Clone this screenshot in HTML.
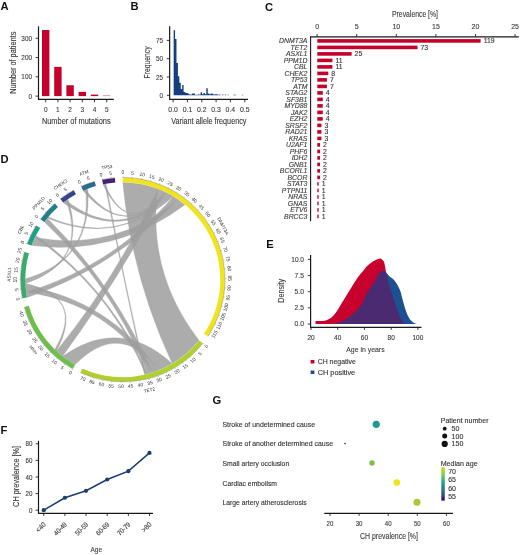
<!DOCTYPE html><html><head><meta charset="utf-8"><style>html,body{margin:0;padding:0;background:#fff;}svg{display:block;filter:blur(0.35px);}</style></head><body><svg width="520" height="555" viewBox="0 0 520 555" font-family='"Liberation Sans", sans-serif'><text x="0.60" y="10.40" font-size="11.2" fill="#111" font-weight="bold" >A</text>
<line x1="38.50" y1="26.30" x2="38.50" y2="99.80" stroke="#1a1a1a" stroke-width="1.2"/>
<line x1="37.95" y1="99.30" x2="113.80" y2="99.30" stroke="#1a1a1a" stroke-width="1.2"/>
<line x1="35.60" y1="96.10" x2="38.50" y2="96.10" stroke="#222" stroke-width="0.9"/>
<text x="32.00" y="98.70" font-size="7.6" text-anchor="end" fill="#3a3a3a" stroke="#3a3a3a" stroke-width="0.12" textLength="3.55" lengthAdjust="spacingAndGlyphs" >0</text>
<line x1="35.60" y1="76.83" x2="38.50" y2="76.83" stroke="#222" stroke-width="0.9"/>
<text x="32.00" y="79.43" font-size="7.6" text-anchor="end" fill="#3a3a3a" stroke="#3a3a3a" stroke-width="0.12" textLength="10.649999999999999" lengthAdjust="spacingAndGlyphs" >100</text>
<line x1="35.60" y1="57.56" x2="38.50" y2="57.56" stroke="#222" stroke-width="0.9"/>
<text x="32.00" y="60.16" font-size="7.6" text-anchor="end" fill="#3a3a3a" stroke="#3a3a3a" stroke-width="0.12" textLength="10.649999999999999" lengthAdjust="spacingAndGlyphs" >200</text>
<line x1="35.60" y1="38.29" x2="38.50" y2="38.29" stroke="#222" stroke-width="0.9"/>
<text x="32.00" y="40.89" font-size="7.6" text-anchor="end" fill="#3a3a3a" stroke="#3a3a3a" stroke-width="0.12" textLength="10.649999999999999" lengthAdjust="spacingAndGlyphs" >300</text>
<rect x="42.00" y="30.00" width="7.40" height="66.10" fill="#c4002b" />
<line x1="45.70" y1="99.30" x2="45.70" y2="102.30" stroke="#222" stroke-width="0.9"/>
<text x="45.70" y="112.00" font-size="7.6" text-anchor="middle" fill="#3a3a3a" stroke="#3a3a3a" stroke-width="0.12" textLength="3.6" lengthAdjust="spacingAndGlyphs" >0</text>
<rect x="54.20" y="66.90" width="7.40" height="29.20" fill="#c4002b" />
<line x1="57.90" y1="99.30" x2="57.90" y2="102.30" stroke="#222" stroke-width="0.9"/>
<text x="57.90" y="112.00" font-size="7.6" text-anchor="middle" fill="#3a3a3a" stroke="#3a3a3a" stroke-width="0.12" textLength="3.6" lengthAdjust="spacingAndGlyphs" >1</text>
<rect x="66.40" y="85.25" width="7.40" height="10.85" fill="#c4002b" />
<line x1="70.10" y1="99.30" x2="70.10" y2="102.30" stroke="#222" stroke-width="0.9"/>
<text x="70.10" y="112.00" font-size="7.6" text-anchor="middle" fill="#3a3a3a" stroke="#3a3a3a" stroke-width="0.12" textLength="3.6" lengthAdjust="spacingAndGlyphs" >2</text>
<rect x="78.60" y="91.90" width="7.40" height="4.20" fill="#c4002b" />
<line x1="82.30" y1="99.30" x2="82.30" y2="102.30" stroke="#222" stroke-width="0.9"/>
<text x="82.30" y="112.00" font-size="7.6" text-anchor="middle" fill="#3a3a3a" stroke="#3a3a3a" stroke-width="0.12" textLength="3.6" lengthAdjust="spacingAndGlyphs" >3</text>
<rect x="90.80" y="94.60" width="7.40" height="1.50" fill="#c4002b" />
<line x1="94.50" y1="99.30" x2="94.50" y2="102.30" stroke="#222" stroke-width="0.9"/>
<text x="94.50" y="112.00" font-size="7.6" text-anchor="middle" fill="#3a3a3a" stroke="#3a3a3a" stroke-width="0.12" textLength="3.6" lengthAdjust="spacingAndGlyphs" >4</text>
<rect x="103.00" y="95.25" width="7.40" height="0.85" fill="#e08a9a" />
<line x1="106.70" y1="99.30" x2="106.70" y2="102.30" stroke="#222" stroke-width="0.9"/>
<text x="106.70" y="112.00" font-size="7.6" text-anchor="middle" fill="#3a3a3a" stroke="#3a3a3a" stroke-width="0.12" textLength="3.6" lengthAdjust="spacingAndGlyphs" >5</text>
<text x="41.90" y="123.60" font-size="8.2" fill="#3a3a3a" stroke="#3a3a3a" stroke-width="0.12" textLength="68.7" lengthAdjust="spacingAndGlyphs" >Number of mutations</text>
<text x="15.60" y="62.70" font-size="8.2" text-anchor="middle" fill="#3a3a3a" stroke="#3a3a3a" stroke-width="0.12" textLength="62" lengthAdjust="spacingAndGlyphs" transform="rotate(-90.00 15.60 62.70)" >Number of patients</text>
<text x="130.60" y="10.40" font-size="11.2" fill="#111" font-weight="bold" >B</text>
<line x1="169.65" y1="26.30" x2="169.65" y2="99.80" stroke="#1a1a1a" stroke-width="1.2"/>
<line x1="169.10" y1="99.30" x2="248.00" y2="99.30" stroke="#1a1a1a" stroke-width="1.2"/>
<line x1="166.80" y1="95.30" x2="169.65" y2="95.30" stroke="#222" stroke-width="0.9"/>
<text x="163.00" y="97.90" font-size="7.6" text-anchor="end" fill="#3a3a3a" stroke="#3a3a3a" stroke-width="0.12" textLength="3.55" lengthAdjust="spacingAndGlyphs" >0</text>
<line x1="166.80" y1="77.00" x2="169.65" y2="77.00" stroke="#222" stroke-width="0.9"/>
<text x="163.00" y="79.60" font-size="7.6" text-anchor="end" fill="#3a3a3a" stroke="#3a3a3a" stroke-width="0.12" textLength="7.1" lengthAdjust="spacingAndGlyphs" >25</text>
<line x1="166.80" y1="58.70" x2="169.65" y2="58.70" stroke="#222" stroke-width="0.9"/>
<text x="163.00" y="61.30" font-size="7.6" text-anchor="end" fill="#3a3a3a" stroke="#3a3a3a" stroke-width="0.12" textLength="7.1" lengthAdjust="spacingAndGlyphs" >50</text>
<line x1="166.80" y1="40.40" x2="169.65" y2="40.40" stroke="#222" stroke-width="0.9"/>
<text x="163.00" y="43.00" font-size="7.6" text-anchor="end" fill="#3a3a3a" stroke="#3a3a3a" stroke-width="0.12" textLength="7.1" lengthAdjust="spacingAndGlyphs" >75</text>
<line x1="173.10" y1="99.30" x2="173.10" y2="102.30" stroke="#222" stroke-width="0.9"/>
<text x="173.10" y="112.00" font-size="7.6" text-anchor="middle" fill="#3a3a3a" stroke="#3a3a3a" stroke-width="0.12" textLength="9.6" lengthAdjust="spacingAndGlyphs" >0.0</text>
<line x1="187.43" y1="99.30" x2="187.43" y2="102.30" stroke="#222" stroke-width="0.9"/>
<text x="187.43" y="112.00" font-size="7.6" text-anchor="middle" fill="#3a3a3a" stroke="#3a3a3a" stroke-width="0.12" textLength="9.6" lengthAdjust="spacingAndGlyphs" >0.1</text>
<line x1="201.76" y1="99.30" x2="201.76" y2="102.30" stroke="#222" stroke-width="0.9"/>
<text x="201.76" y="112.00" font-size="7.6" text-anchor="middle" fill="#3a3a3a" stroke="#3a3a3a" stroke-width="0.12" textLength="9.6" lengthAdjust="spacingAndGlyphs" >0.2</text>
<line x1="216.09" y1="99.30" x2="216.09" y2="102.30" stroke="#222" stroke-width="0.9"/>
<text x="216.09" y="112.00" font-size="7.6" text-anchor="middle" fill="#3a3a3a" stroke="#3a3a3a" stroke-width="0.12" textLength="9.6" lengthAdjust="spacingAndGlyphs" >0.3</text>
<line x1="230.42" y1="99.30" x2="230.42" y2="102.30" stroke="#222" stroke-width="0.9"/>
<text x="230.42" y="112.00" font-size="7.6" text-anchor="middle" fill="#3a3a3a" stroke="#3a3a3a" stroke-width="0.12" textLength="9.6" lengthAdjust="spacingAndGlyphs" >0.4</text>
<line x1="244.75" y1="99.30" x2="244.75" y2="102.30" stroke="#222" stroke-width="0.9"/>
<text x="244.75" y="112.00" font-size="7.6" text-anchor="middle" fill="#3a3a3a" stroke="#3a3a3a" stroke-width="0.12" textLength="9.6" lengthAdjust="spacingAndGlyphs" >0.5</text>
<path d="M173.65,95.30h1.42v-65.15h-1.42zM175.07,95.30h1.42v-56.36h-1.42zM176.49,95.30h1.42v-32.21h-1.42zM177.91,95.30h1.42v-19.03h-1.42zM179.33,95.30h1.42v-12.44h-1.42zM180.75,95.30h1.42v-6.30h-1.42zM182.17,95.30h1.42v-10.25h-1.42zM183.59,95.30h1.42v-3.37h-1.42zM185.01,95.30h1.42v-2.56h-1.42zM186.43,95.30h1.42v-2.20h-1.42zM187.85,95.30h1.42v-1.46h-1.42zM189.27,95.30h1.42v-0.73h-1.42zM190.69,95.30h1.42v-0.73h-1.42zM192.11,95.30h1.42v-1.76h-1.42zM193.53,95.30h1.42v-1.76h-1.42zM194.95,95.30h1.42v-0.51h-1.42zM196.37,95.30h1.42v-0.51h-1.42zM197.79,95.30h1.42v-0.73h-1.42zM199.21,95.30h1.42v-0.73h-1.42zM200.63,95.30h1.42v-2.93h-1.42zM202.05,95.30h1.42v-1.10h-1.42zM203.47,95.30h1.42v-2.20h-1.42zM204.89,95.30h1.42v-1.10h-1.42zM206.31,95.30h1.42v-7.03h-1.42zM207.73,95.30h1.42v-1.76h-1.42zM209.15,95.30h1.42v-1.10h-1.42zM210.57,95.30h1.42v-1.76h-1.42zM211.99,95.30h1.42v-1.46h-1.42zM213.41,95.30h1.42v-0.73h-1.42zM214.83,95.30h1.42v-1.10h-1.42zM216.25,95.30h1.42v-1.10h-1.42zM217.67,95.30h1.42v-0.51h-1.42zM219.09,95.30h1.42v-0.73h-1.42zM221.93,95.30h1.42v-0.73h-1.42zM224.77,95.30h1.42v-0.73h-1.42zM227.61,95.30h1.42v-0.51h-1.42zM233.29,95.30h1.42v-0.51h-1.42zM234.71,95.30h1.42v-0.51h-1.42zM241.81,95.30h1.42v-0.51h-1.42z" fill="#153f7c"/>
<text x="171.20" y="123.60" font-size="8.2" fill="#3a3a3a" stroke="#3a3a3a" stroke-width="0.12" textLength="75.3" lengthAdjust="spacingAndGlyphs" >Variant allele frequency</text>
<text x="150.40" y="62.40" font-size="8.2" text-anchor="middle" fill="#3a3a3a" stroke="#3a3a3a" stroke-width="0.12" textLength="32" lengthAdjust="spacingAndGlyphs" transform="rotate(-90.00 150.40 62.40)" >Frequency</text>
<text x="264.90" y="10.60" font-size="11.2" fill="#111" font-weight="bold" >C</text>
<text x="392.00" y="17.40" font-size="8.8" fill="#3a3a3a" stroke="#3a3a3a" stroke-width="0.12" textLength="46" lengthAdjust="spacingAndGlyphs" >Prevalence [%]</text>
<line x1="310.05" y1="36.80" x2="518.80" y2="36.80" stroke="#1a1a1a" stroke-width="1.2"/>
<line x1="310.60" y1="36.80" x2="310.60" y2="221.30" stroke="#1a1a1a" stroke-width="1.1"/>
<line x1="317.10" y1="34.00" x2="317.10" y2="36.80" stroke="#222" stroke-width="0.9"/>
<text x="317.10" y="28.80" font-size="7.0" text-anchor="middle" fill="#3a3a3a" stroke="#3a3a3a" stroke-width="0.12" >0</text>
<line x1="356.70" y1="34.00" x2="356.70" y2="36.80" stroke="#222" stroke-width="0.9"/>
<text x="356.70" y="28.80" font-size="7.0" text-anchor="middle" fill="#3a3a3a" stroke="#3a3a3a" stroke-width="0.12" >5</text>
<line x1="396.30" y1="34.00" x2="396.30" y2="36.80" stroke="#222" stroke-width="0.9"/>
<text x="396.30" y="28.80" font-size="7.0" text-anchor="middle" fill="#3a3a3a" stroke="#3a3a3a" stroke-width="0.12" >10</text>
<line x1="435.90" y1="34.00" x2="435.90" y2="36.80" stroke="#222" stroke-width="0.9"/>
<text x="435.90" y="28.80" font-size="7.0" text-anchor="middle" fill="#3a3a3a" stroke="#3a3a3a" stroke-width="0.12" >15</text>
<line x1="475.50" y1="34.00" x2="475.50" y2="36.80" stroke="#222" stroke-width="0.9"/>
<text x="475.50" y="28.80" font-size="7.0" text-anchor="middle" fill="#3a3a3a" stroke="#3a3a3a" stroke-width="0.12" >20</text>
<line x1="515.10" y1="34.00" x2="515.10" y2="36.80" stroke="#222" stroke-width="0.9"/>
<text x="515.10" y="28.80" font-size="7.0" text-anchor="middle" fill="#3a3a3a" stroke="#3a3a3a" stroke-width="0.12" >25</text>
<rect x="317.30" y="39.10" width="163.34" height="3.60" fill="#c4002b" />
<text x="307.40" y="43.20" font-size="6.9" text-anchor="end" fill="#3a3a3a" stroke="#3a3a3a" stroke-width="0.12" font-style="italic" >DNMT3A</text>
<text x="483.64" y="43.40" font-size="6.9" fill="#333" stroke="#333" stroke-width="0.12" >119</text>
<rect x="317.30" y="45.60" width="100.20" height="3.60" fill="#c4002b" />
<text x="307.40" y="49.70" font-size="6.9" text-anchor="end" fill="#3a3a3a" stroke="#3a3a3a" stroke-width="0.12" font-style="italic" >TET2</text>
<text x="420.50" y="49.90" font-size="6.9" fill="#333" stroke="#333" stroke-width="0.12" >73</text>
<rect x="317.30" y="52.10" width="34.32" height="3.60" fill="#c4002b" />
<text x="307.40" y="56.20" font-size="6.9" text-anchor="end" fill="#3a3a3a" stroke="#3a3a3a" stroke-width="0.12" font-style="italic" >ASXL1</text>
<text x="354.62" y="56.40" font-size="6.9" fill="#333" stroke="#333" stroke-width="0.12" >25</text>
<rect x="317.30" y="58.60" width="15.10" height="3.60" fill="#c4002b" />
<text x="307.40" y="62.70" font-size="6.9" text-anchor="end" fill="#3a3a3a" stroke="#3a3a3a" stroke-width="0.12" font-style="italic" >PPM1D</text>
<text x="335.40" y="62.90" font-size="6.9" fill="#333" stroke="#333" stroke-width="0.12" >11</text>
<rect x="317.30" y="65.10" width="15.10" height="3.60" fill="#c4002b" />
<text x="307.40" y="69.20" font-size="6.9" text-anchor="end" fill="#3a3a3a" stroke="#3a3a3a" stroke-width="0.12" font-style="italic" >CBL</text>
<text x="335.40" y="69.40" font-size="6.9" fill="#333" stroke="#333" stroke-width="0.12" >11</text>
<rect x="317.30" y="71.60" width="10.98" height="3.60" fill="#c4002b" />
<text x="307.40" y="75.70" font-size="6.9" text-anchor="end" fill="#3a3a3a" stroke="#3a3a3a" stroke-width="0.12" font-style="italic" >CHEK2</text>
<text x="331.28" y="75.90" font-size="6.9" fill="#333" stroke="#333" stroke-width="0.12" >8</text>
<rect x="317.30" y="78.10" width="9.61" height="3.60" fill="#c4002b" />
<text x="307.40" y="82.20" font-size="6.9" text-anchor="end" fill="#3a3a3a" stroke="#3a3a3a" stroke-width="0.12" font-style="italic" >TP53</text>
<text x="329.91" y="82.40" font-size="6.9" fill="#333" stroke="#333" stroke-width="0.12" >7</text>
<rect x="317.30" y="84.60" width="9.61" height="3.60" fill="#c4002b" />
<text x="307.40" y="88.70" font-size="6.9" text-anchor="end" fill="#3a3a3a" stroke="#3a3a3a" stroke-width="0.12" font-style="italic" >ATM</text>
<text x="329.91" y="88.90" font-size="6.9" fill="#333" stroke="#333" stroke-width="0.12" >7</text>
<rect x="317.30" y="91.10" width="5.49" height="3.60" fill="#c4002b" />
<text x="307.40" y="95.20" font-size="6.9" text-anchor="end" fill="#3a3a3a" stroke="#3a3a3a" stroke-width="0.12" font-style="italic" >STAG2</text>
<text x="325.79" y="95.40" font-size="6.9" fill="#333" stroke="#333" stroke-width="0.12" >4</text>
<rect x="317.30" y="97.60" width="5.49" height="3.60" fill="#c4002b" />
<text x="307.40" y="101.70" font-size="6.9" text-anchor="end" fill="#3a3a3a" stroke="#3a3a3a" stroke-width="0.12" font-style="italic" >SF3B1</text>
<text x="325.79" y="101.90" font-size="6.9" fill="#333" stroke="#333" stroke-width="0.12" >4</text>
<rect x="317.30" y="104.10" width="5.49" height="3.60" fill="#c4002b" />
<text x="307.40" y="108.20" font-size="6.9" text-anchor="end" fill="#3a3a3a" stroke="#3a3a3a" stroke-width="0.12" font-style="italic" >MYD88</text>
<text x="325.79" y="108.40" font-size="6.9" fill="#333" stroke="#333" stroke-width="0.12" >4</text>
<rect x="317.30" y="110.60" width="5.49" height="3.60" fill="#c4002b" />
<text x="307.40" y="114.70" font-size="6.9" text-anchor="end" fill="#3a3a3a" stroke="#3a3a3a" stroke-width="0.12" font-style="italic" >JAK2</text>
<text x="325.79" y="114.90" font-size="6.9" fill="#333" stroke="#333" stroke-width="0.12" >4</text>
<rect x="317.30" y="117.10" width="5.49" height="3.60" fill="#c4002b" />
<text x="307.40" y="121.20" font-size="6.9" text-anchor="end" fill="#3a3a3a" stroke="#3a3a3a" stroke-width="0.12" font-style="italic" >EZH2</text>
<text x="325.79" y="121.40" font-size="6.9" fill="#333" stroke="#333" stroke-width="0.12" >4</text>
<rect x="317.30" y="123.60" width="4.12" height="3.60" fill="#c4002b" />
<text x="307.40" y="127.70" font-size="6.9" text-anchor="end" fill="#3a3a3a" stroke="#3a3a3a" stroke-width="0.12" font-style="italic" >SRSF2</text>
<text x="324.42" y="127.90" font-size="6.9" fill="#333" stroke="#333" stroke-width="0.12" >3</text>
<rect x="317.30" y="130.10" width="4.12" height="3.60" fill="#c4002b" />
<text x="307.40" y="134.20" font-size="6.9" text-anchor="end" fill="#3a3a3a" stroke="#3a3a3a" stroke-width="0.12" font-style="italic" >RAD21</text>
<text x="324.42" y="134.40" font-size="6.9" fill="#333" stroke="#333" stroke-width="0.12" >3</text>
<rect x="317.30" y="136.60" width="4.12" height="3.60" fill="#c4002b" />
<text x="307.40" y="140.70" font-size="6.9" text-anchor="end" fill="#3a3a3a" stroke="#3a3a3a" stroke-width="0.12" font-style="italic" >KRAS</text>
<text x="324.42" y="140.90" font-size="6.9" fill="#333" stroke="#333" stroke-width="0.12" >3</text>
<rect x="317.30" y="143.10" width="2.75" height="3.60" fill="#c4002b" />
<text x="307.40" y="147.20" font-size="6.9" text-anchor="end" fill="#3a3a3a" stroke="#3a3a3a" stroke-width="0.12" font-style="italic" >U2AF1</text>
<text x="323.05" y="147.40" font-size="6.9" fill="#333" stroke="#333" stroke-width="0.12" >2</text>
<rect x="317.30" y="149.60" width="2.75" height="3.60" fill="#c4002b" />
<text x="307.40" y="153.70" font-size="6.9" text-anchor="end" fill="#3a3a3a" stroke="#3a3a3a" stroke-width="0.12" font-style="italic" >PHF6</text>
<text x="323.05" y="153.90" font-size="6.9" fill="#333" stroke="#333" stroke-width="0.12" >2</text>
<rect x="317.30" y="156.10" width="2.75" height="3.60" fill="#c4002b" />
<text x="307.40" y="160.20" font-size="6.9" text-anchor="end" fill="#3a3a3a" stroke="#3a3a3a" stroke-width="0.12" font-style="italic" >IDH2</text>
<text x="323.05" y="160.40" font-size="6.9" fill="#333" stroke="#333" stroke-width="0.12" >2</text>
<rect x="317.30" y="162.60" width="2.75" height="3.60" fill="#c4002b" />
<text x="307.40" y="166.70" font-size="6.9" text-anchor="end" fill="#3a3a3a" stroke="#3a3a3a" stroke-width="0.12" font-style="italic" >GNB1</text>
<text x="323.05" y="166.90" font-size="6.9" fill="#333" stroke="#333" stroke-width="0.12" >2</text>
<rect x="317.30" y="169.10" width="2.75" height="3.60" fill="#c4002b" />
<text x="307.40" y="173.20" font-size="6.9" text-anchor="end" fill="#3a3a3a" stroke="#3a3a3a" stroke-width="0.12" font-style="italic" >BCORL1</text>
<text x="323.05" y="173.40" font-size="6.9" fill="#333" stroke="#333" stroke-width="0.12" >2</text>
<rect x="317.30" y="175.60" width="2.75" height="3.60" fill="#c4002b" />
<text x="307.40" y="179.70" font-size="6.9" text-anchor="end" fill="#3a3a3a" stroke="#3a3a3a" stroke-width="0.12" font-style="italic" >BCOR</text>
<text x="323.05" y="179.90" font-size="6.9" fill="#333" stroke="#333" stroke-width="0.12" >2</text>
<rect x="317.30" y="182.10" width="1.37" height="3.60" fill="#c4002b" />
<text x="307.40" y="186.20" font-size="6.9" text-anchor="end" fill="#3a3a3a" stroke="#3a3a3a" stroke-width="0.12" font-style="italic" >STAT3</text>
<text x="321.67" y="186.40" font-size="6.9" fill="#333" stroke="#333" stroke-width="0.12" >1</text>
<rect x="317.30" y="188.60" width="1.37" height="3.60" fill="#c4002b" />
<text x="307.40" y="192.70" font-size="6.9" text-anchor="end" fill="#3a3a3a" stroke="#3a3a3a" stroke-width="0.12" font-style="italic" >PTPN11</text>
<text x="321.67" y="192.90" font-size="6.9" fill="#333" stroke="#333" stroke-width="0.12" >1</text>
<rect x="317.30" y="195.10" width="1.37" height="3.60" fill="#c4002b" />
<text x="307.40" y="199.20" font-size="6.9" text-anchor="end" fill="#3a3a3a" stroke="#3a3a3a" stroke-width="0.12" font-style="italic" >NRAS</text>
<text x="321.67" y="199.40" font-size="6.9" fill="#333" stroke="#333" stroke-width="0.12" >1</text>
<rect x="317.30" y="201.60" width="1.37" height="3.60" fill="#c4002b" />
<text x="307.40" y="205.70" font-size="6.9" text-anchor="end" fill="#3a3a3a" stroke="#3a3a3a" stroke-width="0.12" font-style="italic" >GNAS</text>
<text x="321.67" y="205.90" font-size="6.9" fill="#333" stroke="#333" stroke-width="0.12" >1</text>
<rect x="317.30" y="208.10" width="1.37" height="3.60" fill="#c4002b" />
<text x="307.40" y="212.20" font-size="6.9" text-anchor="end" fill="#3a3a3a" stroke="#3a3a3a" stroke-width="0.12" font-style="italic" >ETV6</text>
<text x="321.67" y="212.40" font-size="6.9" fill="#333" stroke="#333" stroke-width="0.12" >1</text>
<rect x="317.30" y="214.60" width="1.37" height="3.60" fill="#c4002b" />
<text x="307.40" y="218.70" font-size="6.9" text-anchor="end" fill="#3a3a3a" stroke="#3a3a3a" stroke-width="0.12" font-style="italic" >BRCC3</text>
<text x="321.67" y="218.90" font-size="6.9" fill="#333" stroke="#333" stroke-width="0.12" >1</text>
<text x="266.30" y="248.30" font-size="11.2" fill="#111" font-weight="bold" >E</text>
<line x1="310.60" y1="255.00" x2="310.60" y2="327.80" stroke="#1a1a1a" stroke-width="1.2"/>
<line x1="310.05" y1="327.30" x2="421.50" y2="327.30" stroke="#1a1a1a" stroke-width="1.2"/>
<line x1="307.80" y1="324.00" x2="310.60" y2="324.00" stroke="#222" stroke-width="0.9"/>
<text x="304.00" y="326.40" font-size="6.8" text-anchor="end" fill="#3a3a3a" stroke="#3a3a3a" stroke-width="0.12" textLength="9.399999999999999" lengthAdjust="spacingAndGlyphs" >0.0</text>
<line x1="307.80" y1="307.85" x2="310.60" y2="307.85" stroke="#222" stroke-width="0.9"/>
<text x="304.00" y="310.25" font-size="6.8" text-anchor="end" fill="#3a3a3a" stroke="#3a3a3a" stroke-width="0.12" textLength="9.399999999999999" lengthAdjust="spacingAndGlyphs" >2.5</text>
<line x1="307.80" y1="291.70" x2="310.60" y2="291.70" stroke="#222" stroke-width="0.9"/>
<text x="304.00" y="294.10" font-size="6.8" text-anchor="end" fill="#3a3a3a" stroke="#3a3a3a" stroke-width="0.12" textLength="9.399999999999999" lengthAdjust="spacingAndGlyphs" >5.0</text>
<line x1="307.80" y1="275.55" x2="310.60" y2="275.55" stroke="#222" stroke-width="0.9"/>
<text x="304.00" y="277.95" font-size="6.8" text-anchor="end" fill="#3a3a3a" stroke="#3a3a3a" stroke-width="0.12" textLength="9.399999999999999" lengthAdjust="spacingAndGlyphs" >7.5</text>
<line x1="307.80" y1="259.40" x2="310.60" y2="259.40" stroke="#222" stroke-width="0.9"/>
<text x="304.00" y="261.80" font-size="6.8" text-anchor="end" fill="#3a3a3a" stroke="#3a3a3a" stroke-width="0.12" textLength="12.7" lengthAdjust="spacingAndGlyphs" >10.0</text>
<line x1="311.00" y1="327.30" x2="311.00" y2="329.90" stroke="#222" stroke-width="0.9"/>
<text x="311.00" y="339.80" font-size="6.8" text-anchor="middle" fill="#3a3a3a" stroke="#3a3a3a" stroke-width="0.12" textLength="7.2" lengthAdjust="spacingAndGlyphs" >20</text>
<line x1="337.72" y1="327.30" x2="337.72" y2="329.90" stroke="#222" stroke-width="0.9"/>
<text x="337.72" y="339.80" font-size="6.8" text-anchor="middle" fill="#3a3a3a" stroke="#3a3a3a" stroke-width="0.12" textLength="7.2" lengthAdjust="spacingAndGlyphs" >40</text>
<line x1="364.44" y1="327.30" x2="364.44" y2="329.90" stroke="#222" stroke-width="0.9"/>
<text x="364.44" y="339.80" font-size="6.8" text-anchor="middle" fill="#3a3a3a" stroke="#3a3a3a" stroke-width="0.12" textLength="7.2" lengthAdjust="spacingAndGlyphs" >60</text>
<line x1="391.16" y1="327.30" x2="391.16" y2="329.90" stroke="#222" stroke-width="0.9"/>
<text x="391.16" y="339.80" font-size="6.8" text-anchor="middle" fill="#3a3a3a" stroke="#3a3a3a" stroke-width="0.12" textLength="7.2" lengthAdjust="spacingAndGlyphs" >80</text>
<line x1="417.88" y1="327.30" x2="417.88" y2="329.90" stroke="#222" stroke-width="0.9"/>
<text x="417.88" y="339.80" font-size="6.8" text-anchor="middle" fill="#3a3a3a" stroke="#3a3a3a" stroke-width="0.12" textLength="10.8" lengthAdjust="spacingAndGlyphs" >100</text>
<text x="346.20" y="352.40" font-size="8.0" fill="#3a3a3a" stroke="#3a3a3a" stroke-width="0.12" textLength="38.4" lengthAdjust="spacingAndGlyphs" >Age in years</text>
<text x="284.00" y="290.80" font-size="8.2" text-anchor="middle" fill="#3a3a3a" stroke="#3a3a3a" stroke-width="0.12" textLength="24" lengthAdjust="spacingAndGlyphs" transform="rotate(-90.00 284.00 290.80)" >Density</text>
<rect x="310.60" y="360.00" width="3.80" height="3.50" fill="#c4002b" />
<text x="317.70" y="364.00" font-size="7.0" fill="#333" stroke="#333" stroke-width="0.12" textLength="38.1" lengthAdjust="spacingAndGlyphs" >CH negative</text>
<rect x="310.60" y="370.50" width="3.80" height="3.50" fill="#1d4f8f" />
<text x="317.70" y="374.50" font-size="7.0" fill="#333" stroke="#333" stroke-width="0.12" textLength="37.5" lengthAdjust="spacingAndGlyphs" >CH positive</text>
<defs><clipPath id="redclip"><path d="M315.54,321.09C316.34,321.09 318.88,321.15 320.35,321.09C321.82,321.04 323.25,320.95 324.36,320.77C325.47,320.59 326.10,320.36 327.03,319.99C327.97,319.63 329.01,319.20 329.97,318.57C330.93,317.95 331.84,317.17 332.78,316.25C333.71,315.32 334.65,314.26 335.58,313.02C336.52,311.78 337.45,310.33 338.39,308.82C339.32,307.31 339.79,306.29 341.19,303.97C342.60,301.66 344.96,297.94 346.80,294.93C348.65,291.92 350.43,288.85 352.28,285.89C354.13,282.93 356.02,279.75 357.89,277.17C359.76,274.58 362.01,272.21 363.50,270.38C365.00,268.55 365.58,267.48 366.84,266.18C368.11,264.89 369.74,263.60 371.12,262.63C372.50,261.66 373.90,260.96 375.13,260.37C376.35,259.78 377.51,259.35 378.47,259.08C379.43,258.81 380.00,258.38 380.87,258.75C381.74,259.13 382.99,260.10 383.68,261.34C384.37,262.58 384.64,264.41 385.01,266.18C385.39,267.96 385.57,270.11 385.95,272.00C386.33,273.88 386.75,275.28 387.29,277.49C387.82,279.70 388.51,282.87 389.16,285.24C389.80,287.61 390.38,289.22 391.16,291.70C391.94,294.18 392.94,297.41 393.83,300.10C394.72,302.79 395.61,305.37 396.50,307.85C397.39,310.33 398.33,312.91 399.18,314.96C400.02,317.00 400.80,318.78 401.58,320.12C402.36,321.47 403.18,322.38 403.85,323.03C404.52,323.68 405.30,323.84 405.59,324.00L405.59,324.00L315.54,324.00Z"/></clipPath></defs>
<path d="M315.54,321.09C316.34,321.09 318.88,321.15 320.35,321.09C321.82,321.04 323.25,320.95 324.36,320.77C325.47,320.59 326.10,320.36 327.03,319.99C327.97,319.63 329.01,319.20 329.97,318.57C330.93,317.95 331.84,317.17 332.78,316.25C333.71,315.32 334.65,314.26 335.58,313.02C336.52,311.78 337.45,310.33 338.39,308.82C339.32,307.31 339.79,306.29 341.19,303.97C342.60,301.66 344.96,297.94 346.80,294.93C348.65,291.92 350.43,288.85 352.28,285.89C354.13,282.93 356.02,279.75 357.89,277.17C359.76,274.58 362.01,272.21 363.50,270.38C365.00,268.55 365.58,267.48 366.84,266.18C368.11,264.89 369.74,263.60 371.12,262.63C372.50,261.66 373.90,260.96 375.13,260.37C376.35,259.78 377.51,259.35 378.47,259.08C379.43,258.81 380.00,258.38 380.87,258.75C381.74,259.13 382.99,260.10 383.68,261.34C384.37,262.58 384.64,264.41 385.01,266.18C385.39,267.96 385.57,270.11 385.95,272.00C386.33,273.88 386.75,275.28 387.29,277.49C387.82,279.70 388.51,282.87 389.16,285.24C389.80,287.61 390.38,289.22 391.16,291.70C391.94,294.18 392.94,297.41 393.83,300.10C394.72,302.79 395.61,305.37 396.50,307.85C397.39,310.33 398.33,312.91 399.18,314.96C400.02,317.00 400.80,318.78 401.58,320.12C402.36,321.47 403.18,322.38 403.85,323.03C404.52,323.68 405.30,323.84 405.59,324.00L405.59,324.00L315.54,324.00Z" fill="#c8002d"/>
<path d="M333.04,324.00C333.49,323.91 334.78,323.67 335.72,323.48C336.65,323.30 337.65,323.19 338.66,322.90C339.66,322.61 340.68,322.22 341.73,321.74C342.77,321.25 343.82,320.64 344.93,319.99C346.05,319.35 347.23,318.69 348.41,317.86C349.59,317.03 350.97,315.88 352.02,315.02C353.06,314.16 353.82,313.53 354.69,312.69C355.56,311.86 356.40,310.90 357.23,309.98C358.05,309.07 358.87,308.10 359.63,307.20C360.39,306.31 361.08,305.80 361.77,304.62C362.46,303.44 363.10,301.61 363.77,300.10C364.44,298.59 364.91,297.24 365.78,295.58C366.64,293.91 367.91,291.81 368.98,290.08C370.05,288.36 371.23,286.64 372.19,285.24C373.15,283.84 373.93,282.98 374.73,281.69C375.53,280.39 376.26,278.89 377.00,277.49C377.73,276.09 378.31,274.37 379.14,273.29C379.96,272.21 381.16,271.35 381.94,271.03C382.72,270.71 383.08,271.08 383.81,271.35C384.55,271.62 385.33,271.73 386.35,272.64C387.37,273.56 388.76,275.71 389.96,276.84C391.16,277.97 392.61,278.51 393.56,279.43C394.52,280.34 394.86,281.04 395.70,282.33C396.55,283.62 397.80,285.51 398.64,287.18C399.49,288.85 400.24,290.73 400.78,292.35C401.31,293.96 401.22,294.50 401.85,296.87C402.47,299.24 403.63,303.65 404.52,306.56C405.41,309.46 406.19,312.05 407.19,314.31C408.19,316.57 409.53,318.78 410.53,320.12C411.53,321.47 412.29,321.79 413.20,322.38C414.12,322.98 415.34,323.41 416.01,323.68C416.68,323.95 417.01,323.95 417.21,324.00L417.21,324.00L333.04,324.00Z" fill="#1d5090"/>
<path d="M333.04,324.00C333.49,323.91 334.78,323.67 335.72,323.48C336.65,323.30 337.65,323.19 338.66,322.90C339.66,322.61 340.68,322.22 341.73,321.74C342.77,321.25 343.82,320.64 344.93,319.99C346.05,319.35 347.23,318.69 348.41,317.86C349.59,317.03 350.97,315.88 352.02,315.02C353.06,314.16 353.82,313.53 354.69,312.69C355.56,311.86 356.40,310.90 357.23,309.98C358.05,309.07 358.87,308.10 359.63,307.20C360.39,306.31 361.08,305.80 361.77,304.62C362.46,303.44 363.10,301.61 363.77,300.10C364.44,298.59 364.91,297.24 365.78,295.58C366.64,293.91 367.91,291.81 368.98,290.08C370.05,288.36 371.23,286.64 372.19,285.24C373.15,283.84 373.93,282.98 374.73,281.69C375.53,280.39 376.26,278.89 377.00,277.49C377.73,276.09 378.31,274.37 379.14,273.29C379.96,272.21 381.16,271.35 381.94,271.03C382.72,270.71 383.08,271.08 383.81,271.35C384.55,271.62 385.33,271.73 386.35,272.64C387.37,273.56 388.76,275.71 389.96,276.84C391.16,277.97 392.61,278.51 393.56,279.43C394.52,280.34 394.86,281.04 395.70,282.33C396.55,283.62 397.80,285.51 398.64,287.18C399.49,288.85 400.24,290.73 400.78,292.35C401.31,293.96 401.22,294.50 401.85,296.87C402.47,299.24 403.63,303.65 404.52,306.56C405.41,309.46 406.19,312.05 407.19,314.31C408.19,316.57 409.53,318.78 410.53,320.12C411.53,321.47 412.29,321.79 413.20,322.38C414.12,322.98 415.34,323.41 416.01,323.68C416.68,323.95 417.01,323.95 417.21,324.00L417.21,324.00L333.04,324.00Z" fill="#4a2a70" clip-path="url(#redclip)"/>
<text x="0.60" y="434.00" font-size="11.2" fill="#111" font-weight="bold" >F</text>
<line x1="38.50" y1="440.80" x2="38.50" y2="513.90" stroke="#1a1a1a" stroke-width="1.2"/>
<line x1="37.95" y1="513.40" x2="153.00" y2="513.40" stroke="#1a1a1a" stroke-width="1.2"/>
<line x1="35.60" y1="510.20" x2="38.50" y2="510.20" stroke="#222" stroke-width="0.9"/>
<text x="32.40" y="512.70" font-size="7.2" text-anchor="end" fill="#3a3a3a" stroke="#3a3a3a" stroke-width="0.12" textLength="3.45" lengthAdjust="spacingAndGlyphs" >0</text>
<line x1="35.60" y1="493.60" x2="38.50" y2="493.60" stroke="#222" stroke-width="0.9"/>
<text x="32.40" y="496.10" font-size="7.2" text-anchor="end" fill="#3a3a3a" stroke="#3a3a3a" stroke-width="0.12" textLength="6.9" lengthAdjust="spacingAndGlyphs" >20</text>
<line x1="35.60" y1="477.00" x2="38.50" y2="477.00" stroke="#222" stroke-width="0.9"/>
<text x="32.40" y="479.50" font-size="7.2" text-anchor="end" fill="#3a3a3a" stroke="#3a3a3a" stroke-width="0.12" textLength="6.9" lengthAdjust="spacingAndGlyphs" >40</text>
<line x1="35.60" y1="460.40" x2="38.50" y2="460.40" stroke="#222" stroke-width="0.9"/>
<text x="32.40" y="462.90" font-size="7.2" text-anchor="end" fill="#3a3a3a" stroke="#3a3a3a" stroke-width="0.12" textLength="6.9" lengthAdjust="spacingAndGlyphs" >60</text>
<line x1="35.60" y1="443.80" x2="38.50" y2="443.80" stroke="#222" stroke-width="0.9"/>
<text x="32.40" y="446.30" font-size="7.2" text-anchor="end" fill="#3a3a3a" stroke="#3a3a3a" stroke-width="0.12" textLength="6.9" lengthAdjust="spacingAndGlyphs" >80</text>
<polyline points="43.75,510.20 64.90,497.75 86.05,490.78 107.20,479.49 128.35,471.19 149.50,452.93" fill="none" stroke="#1b3d72" stroke-width="1.5"/>
<circle cx="43.75" cy="510.20" r="2.1" fill="#1b3d72"/>
<circle cx="64.90" cy="497.75" r="2.1" fill="#1b3d72"/>
<circle cx="86.05" cy="490.78" r="2.1" fill="#1b3d72"/>
<circle cx="107.20" cy="479.49" r="2.1" fill="#1b3d72"/>
<circle cx="128.35" cy="471.19" r="2.1" fill="#1b3d72"/>
<circle cx="149.50" cy="452.93" r="2.1" fill="#1b3d72"/>
<line x1="43.75" y1="513.40" x2="43.75" y2="516.00" stroke="#222" stroke-width="0.9"/>
<text x="46.35" y="525.00" font-size="7.0" text-anchor="end" fill="#3a3a3a" stroke="#3a3a3a" stroke-width="0.12" textLength="11.0" lengthAdjust="spacingAndGlyphs" transform="rotate(-45.00 46.35 525.00)" >&lt;40</text>
<line x1="64.90" y1="513.40" x2="64.90" y2="516.00" stroke="#222" stroke-width="0.9"/>
<text x="67.50" y="525.00" font-size="7.0" text-anchor="end" fill="#3a3a3a" stroke="#3a3a3a" stroke-width="0.12" textLength="15.5" lengthAdjust="spacingAndGlyphs" transform="rotate(-45.00 67.50 525.00)" >40-49</text>
<line x1="86.05" y1="513.40" x2="86.05" y2="516.00" stroke="#222" stroke-width="0.9"/>
<text x="88.65" y="525.00" font-size="7.0" text-anchor="end" fill="#3a3a3a" stroke="#3a3a3a" stroke-width="0.12" textLength="15.5" lengthAdjust="spacingAndGlyphs" transform="rotate(-45.00 88.65 525.00)" >50-59</text>
<line x1="107.20" y1="513.40" x2="107.20" y2="516.00" stroke="#222" stroke-width="0.9"/>
<text x="109.80" y="525.00" font-size="7.0" text-anchor="end" fill="#3a3a3a" stroke="#3a3a3a" stroke-width="0.12" textLength="15.5" lengthAdjust="spacingAndGlyphs" transform="rotate(-45.00 109.80 525.00)" >60-69</text>
<line x1="128.35" y1="513.40" x2="128.35" y2="516.00" stroke="#222" stroke-width="0.9"/>
<text x="130.95" y="525.00" font-size="7.0" text-anchor="end" fill="#3a3a3a" stroke="#3a3a3a" stroke-width="0.12" textLength="15.5" lengthAdjust="spacingAndGlyphs" transform="rotate(-45.00 130.95 525.00)" >70-79</text>
<line x1="149.50" y1="513.40" x2="149.50" y2="516.00" stroke="#222" stroke-width="0.9"/>
<text x="152.10" y="525.00" font-size="7.0" text-anchor="end" fill="#3a3a3a" stroke="#3a3a3a" stroke-width="0.12" textLength="11.0" lengthAdjust="spacingAndGlyphs" transform="rotate(-45.00 152.10 525.00)" >&gt;80</text>
<text x="96.30" y="552.00" font-size="8.0" text-anchor="middle" fill="#3a3a3a" stroke="#3a3a3a" stroke-width="0.12" textLength="11.5" lengthAdjust="spacingAndGlyphs" >Age</text>
<text x="18.80" y="476.40" font-size="8.2" text-anchor="middle" fill="#3a3a3a" stroke="#3a3a3a" stroke-width="0.12" textLength="61" lengthAdjust="spacingAndGlyphs" transform="rotate(-90.00 18.80 476.40)" >CH prevalence [%]</text>
<text x="212.60" y="404.00" font-size="11.2" fill="#111" font-weight="bold" >G</text>
<text x="222.50" y="426.80" font-size="7.0" fill="#333" stroke="#333" stroke-width="0.12" textLength="92.5" lengthAdjust="spacingAndGlyphs" >Stroke of undetermined cause</text>
<text x="222.50" y="446.30" font-size="7.0" fill="#333" stroke="#333" stroke-width="0.12" textLength="110.5" lengthAdjust="spacingAndGlyphs" >Stroke of another determined cause</text>
<text x="222.50" y="465.80" font-size="7.0" fill="#333" stroke="#333" stroke-width="0.12" textLength="66.7" lengthAdjust="spacingAndGlyphs" >Small artery occlusion</text>
<text x="222.50" y="485.50" font-size="7.0" fill="#333" stroke="#333" stroke-width="0.12" textLength="54.5" lengthAdjust="spacingAndGlyphs" >Cardiac embolism</text>
<text x="222.50" y="505.00" font-size="7.0" fill="#333" stroke="#333" stroke-width="0.12" textLength="84.2" lengthAdjust="spacingAndGlyphs" >Large artery atherosclerosis</text>
<line x1="324.30" y1="513.30" x2="453.00" y2="513.30" stroke="#1a1a1a" stroke-width="1.2"/>
<line x1="330.00" y1="513.30" x2="330.00" y2="515.90" stroke="#222" stroke-width="0.9"/>
<text x="330.00" y="526.20" font-size="6.8" text-anchor="middle" fill="#3a3a3a" stroke="#3a3a3a" stroke-width="0.12" textLength="6.8" lengthAdjust="spacingAndGlyphs" >20</text>
<line x1="359.10" y1="513.30" x2="359.10" y2="515.90" stroke="#222" stroke-width="0.9"/>
<text x="359.10" y="526.20" font-size="6.8" text-anchor="middle" fill="#3a3a3a" stroke="#3a3a3a" stroke-width="0.12" textLength="6.8" lengthAdjust="spacingAndGlyphs" >30</text>
<line x1="388.20" y1="513.30" x2="388.20" y2="515.90" stroke="#222" stroke-width="0.9"/>
<text x="388.20" y="526.20" font-size="6.8" text-anchor="middle" fill="#3a3a3a" stroke="#3a3a3a" stroke-width="0.12" textLength="6.8" lengthAdjust="spacingAndGlyphs" >40</text>
<line x1="417.30" y1="513.30" x2="417.30" y2="515.90" stroke="#222" stroke-width="0.9"/>
<text x="417.30" y="526.20" font-size="6.8" text-anchor="middle" fill="#3a3a3a" stroke="#3a3a3a" stroke-width="0.12" textLength="6.8" lengthAdjust="spacingAndGlyphs" >50</text>
<line x1="446.40" y1="513.30" x2="446.40" y2="515.90" stroke="#222" stroke-width="0.9"/>
<text x="446.40" y="526.20" font-size="6.8" text-anchor="middle" fill="#3a3a3a" stroke="#3a3a3a" stroke-width="0.12" textLength="6.8" lengthAdjust="spacingAndGlyphs" >60</text>
<text x="360.00" y="538.80" font-size="9.0" fill="#3a3a3a" stroke="#3a3a3a" stroke-width="0.12" textLength="58" lengthAdjust="spacingAndGlyphs" >CH prevalence [%]</text>
<circle cx="376.25" cy="424.3" r="3.6" fill="#1f9a88"/>
<circle cx="345.0" cy="443.5" r="0.75" fill="#111"/>
<circle cx="372.0" cy="463.0" r="2.7" fill="#7cc144"/>
<circle cx="396.8" cy="482.6" r="3.3" fill="#f2e31a"/>
<circle cx="417.0" cy="502.2" r="3.5" fill="#a9c932"/>
<text x="440.70" y="423.00" font-size="7.0" fill="#333" stroke="#333" stroke-width="0.12" textLength="47.8" lengthAdjust="spacingAndGlyphs" >Patient number</text>
<circle cx="444.7" cy="428.7" r="1.9" fill="#111"/>
<text x="451.60" y="431.20" font-size="7.2" fill="#333" stroke="#333" stroke-width="0.12" textLength="7.8" lengthAdjust="spacingAndGlyphs" >50</text>
<circle cx="444.7" cy="436.1" r="2.5" fill="#111"/>
<text x="451.60" y="438.60" font-size="7.2" fill="#333" stroke="#333" stroke-width="0.12" textLength="11.7" lengthAdjust="spacingAndGlyphs" >100</text>
<circle cx="444.7" cy="443.9" r="3.1" fill="#111"/>
<text x="451.60" y="446.40" font-size="7.2" fill="#333" stroke="#333" stroke-width="0.12" textLength="11.7" lengthAdjust="spacingAndGlyphs" >150</text>
<text x="440.70" y="465.60" font-size="7.0" fill="#333" stroke="#333" stroke-width="0.12" textLength="36.9" lengthAdjust="spacingAndGlyphs" >Median age</text>
<defs><linearGradient id="vir" x1="0" y1="0" x2="0" y2="1"><stop offset="0" stop-color="#c9e020"/><stop offset="0.25" stop-color="#6ccd5a"/><stop offset="0.45" stop-color="#22a785"/><stop offset="0.65" stop-color="#2a788e"/><stop offset="0.85" stop-color="#414487"/><stop offset="1" stop-color="#440154"/></linearGradient></defs>
<rect x="441.30" y="467.10" width="3.50" height="33.50" fill="url(#vir)" />
<text x="448.20" y="474.00" font-size="7.2" fill="#333" stroke="#333" stroke-width="0.12" textLength="7.8" lengthAdjust="spacingAndGlyphs" >70</text>
<text x="448.20" y="482.30" font-size="7.2" fill="#333" stroke="#333" stroke-width="0.12" textLength="7.8" lengthAdjust="spacingAndGlyphs" >65</text>
<text x="448.20" y="490.70" font-size="7.2" fill="#333" stroke="#333" stroke-width="0.12" textLength="7.8" lengthAdjust="spacingAndGlyphs" >60</text>
<text x="448.20" y="499.00" font-size="7.2" fill="#333" stroke="#333" stroke-width="0.12" textLength="7.8" lengthAdjust="spacingAndGlyphs" >55</text>
<g fill="#9d9d9d" fill-opacity="0.85" stroke="#a3a3a3" stroke-opacity="0.8" stroke-width="0.35"><path d="M122.80,182.40A97.3,97.3 0 0 1 157.67,188.86Q147.03,273.09 198.95,340.27A97.3,97.3 0 0 1 172.18,363.54Q131.71,277.27 122.80,182.40Z"/><path d="M157.67,188.86A97.3,97.3 0 0 1 165.03,192.04Q119.88,277.88 62.60,356.14A97.3,97.3 0 0 1 56.50,350.92Q117.40,276.33 157.67,188.86Z"/><path d="M31.66,245.62A97.3,97.3 0 0 1 35.16,237.43Q115.46,252.13 177.83,199.45A97.3,97.3 0 0 1 184.94,204.83Q116.52,256.09 31.66,245.62Z"/><path d="M27.13,297.43A97.3,97.3 0 0 1 26.30,292.15Q113.64,265.61 173.33,196.55A97.3,97.3 0 0 1 177.83,199.45Q114.93,267.60 27.13,297.43Z"/><path d="M63.30,202.71A97.3,97.3 0 0 1 66.16,200.59Q120.45,242.63 169.00,194.07A97.3,97.3 0 0 1 172.11,195.82Q120.51,243.51 63.30,202.71Z"/><path d="M83.22,190.81A97.3,97.3 0 0 1 85.68,189.76Q124.31,239.92 166.63,192.83A97.3,97.3 0 0 1 169.00,194.07Q124.29,240.43 83.22,190.81Z"/><path d="M165.03,192.04A97.3,97.3 0 0 1 166.63,192.83Q128.22,238.72 103.07,184.42A97.3,97.3 0 0 1 104.82,184.08Q128.26,238.46 165.03,192.04Z"/><path d="M172.11,195.82A97.3,97.3 0 0 1 173.33,196.55Q117.21,247.14 47.44,218.15A97.3,97.3 0 0 1 48.35,217.05Q117.14,246.73 172.11,195.82Z"/><path d="M172.18,363.54A97.3,97.3 0 0 1 158.58,370.18Q120.14,319.15 75.18,364.55A97.3,97.3 0 0 1 62.60,356.14Q120.37,315.76 172.18,363.54Z"/><path d="M26.30,292.15A97.3,97.3 0 0 1 25.69,285.76Q109.44,300.73 158.58,370.18A97.3,97.3 0 0 1 152.54,372.34Q107.80,303.30 26.30,292.15Z"/><path d="M44.38,222.10A97.3,97.3 0 0 1 47.44,218.15Q114.47,285.38 152.54,372.34A97.3,97.3 0 0 1 147.75,373.75Q112.75,286.55 44.38,222.10Z"/><path d="M35.16,237.43A97.3,97.3 0 0 1 36.11,235.51Q110.68,289.49 147.75,373.75A97.3,97.3 0 0 1 145.67,374.27Q109.94,290.09 35.16,237.43Z"/><path d="M145.67,374.27A97.3,97.3 0 0 1 144.46,374.56Q123.36,279.58 104.82,184.08A97.3,97.3 0 0 1 106.05,183.85Q123.74,279.50 145.67,374.27Z"/><path d="M25.69,285.76A97.3,97.3 0 0 1 25.57,283.44Q86.01,296.57 56.50,350.92A97.3,97.3 0 0 1 54.83,349.32Q85.66,296.73 25.69,285.76Z"/><path d="M25.57,283.44A97.3,97.3 0 0 1 25.51,281.13Q88.17,262.22 66.16,200.59A97.3,97.3 0 0 1 68.06,199.26Q88.61,262.44 25.57,283.44Z"/><path d="M25.51,281.13A97.3,97.3 0 0 1 25.50,278.81Q92.56,259.26 85.68,189.76A97.3,97.3 0 0 1 87.84,188.90Q93.04,259.59 25.51,281.13Z"/></g>
<path d="M122.80,177.60A102.1,102.1 0 0 1 207.74,336.35L203.92,333.80A97.5,97.5 0 0 0 122.80,182.20Z" fill="#f2e41c"/>
<path d="M122.80,177.40A102.3,102.3 0 0 1 207.91,336.46" fill="none" stroke="#666" stroke-width="0.35"/>
<line x1="122.80" y1="177.40" x2="122.80" y2="176.20" stroke="#666" stroke-width="0.35"/>
<text x="122.80" y="172.80" font-size="4.9" fill="#333" text-anchor="middle" dominant-baseline="central" transform="rotate(0.00 122.80 172.80)">0</text>
<line x1="132.16" y1="177.83" x2="132.27" y2="176.63" stroke="#666" stroke-width="0.35"/>
<text x="132.58" y="173.25" font-size="4.9" fill="#333" text-anchor="middle" dominant-baseline="central" transform="rotate(5.25 132.58 173.25)">5</text>
<line x1="141.44" y1="179.11" x2="141.66" y2="177.93" stroke="#666" stroke-width="0.35"/>
<text x="142.28" y="174.59" font-size="4.9" fill="#333" text-anchor="middle" dominant-baseline="central" transform="rotate(10.50 142.28 174.59)">10</text>
<line x1="150.57" y1="181.24" x2="150.89" y2="180.09" stroke="#666" stroke-width="0.35"/>
<text x="151.82" y="176.81" font-size="4.9" fill="#333" text-anchor="middle" dominant-baseline="central" transform="rotate(15.75 151.82 176.81)">15</text>
<line x1="159.46" y1="184.19" x2="159.89" y2="183.07" stroke="#666" stroke-width="0.35"/>
<text x="161.11" y="179.90" font-size="4.9" fill="#333" text-anchor="middle" dominant-baseline="central" transform="rotate(21.00 161.11 179.90)">20</text>
<line x1="168.05" y1="187.95" x2="168.58" y2="186.87" stroke="#666" stroke-width="0.35"/>
<text x="170.08" y="183.82" font-size="4.9" fill="#333" text-anchor="middle" dominant-baseline="central" transform="rotate(26.25 170.08 183.82)">25</text>
<line x1="176.25" y1="192.47" x2="176.88" y2="191.45" stroke="#666" stroke-width="0.35"/>
<text x="178.66" y="188.55" font-size="4.9" fill="#333" text-anchor="middle" dominant-baseline="central" transform="rotate(31.50 178.66 188.55)">30</text>
<line x1="184.01" y1="197.73" x2="184.73" y2="196.77" stroke="#666" stroke-width="0.35"/>
<text x="186.76" y="194.05" font-size="4.9" fill="#333" text-anchor="middle" dominant-baseline="central" transform="rotate(36.75 186.76 194.05)">35</text>
<line x1="191.25" y1="203.68" x2="192.06" y2="202.78" stroke="#666" stroke-width="0.35"/>
<text x="194.33" y="200.26" font-size="4.9" fill="#333" text-anchor="middle" dominant-baseline="central" transform="rotate(42.00 194.33 200.26)">40</text>
<line x1="197.92" y1="210.26" x2="198.80" y2="209.44" stroke="#666" stroke-width="0.35"/>
<text x="201.30" y="207.14" font-size="4.9" fill="#333" text-anchor="middle" dominant-baseline="central" transform="rotate(47.25 201.30 207.14)">45</text>
<line x1="203.96" y1="217.42" x2="204.91" y2="216.69" stroke="#666" stroke-width="0.35"/>
<text x="207.61" y="214.62" font-size="4.9" fill="#333" text-anchor="middle" dominant-baseline="central" transform="rotate(52.50 207.61 214.62)">50</text>
<line x1="209.32" y1="225.11" x2="210.33" y2="224.47" stroke="#666" stroke-width="0.35"/>
<text x="213.21" y="222.66" font-size="4.9" fill="#333" text-anchor="middle" dominant-baseline="central" transform="rotate(57.75 213.21 222.66)">55</text>
<line x1="213.95" y1="233.26" x2="215.02" y2="232.71" stroke="#666" stroke-width="0.35"/>
<text x="218.05" y="231.17" font-size="4.9" fill="#333" text-anchor="middle" dominant-baseline="central" transform="rotate(63.00 218.05 231.17)">60</text>
<line x1="217.82" y1="241.79" x2="218.93" y2="241.35" stroke="#666" stroke-width="0.35"/>
<text x="222.09" y="240.09" font-size="4.9" fill="#333" text-anchor="middle" dominant-baseline="central" transform="rotate(68.25 222.09 240.09)">65</text>
<line x1="220.89" y1="250.65" x2="222.04" y2="250.30" stroke="#666" stroke-width="0.35"/>
<text x="225.30" y="249.34" font-size="4.9" fill="#333" text-anchor="middle" dominant-baseline="central" transform="rotate(73.50 225.30 249.34)">70</text>
<line x1="223.13" y1="259.74" x2="224.31" y2="259.51" stroke="#666" stroke-width="0.35"/>
<text x="227.65" y="258.84" font-size="4.9" fill="#333" text-anchor="middle" dominant-baseline="central" transform="rotate(78.75 227.65 258.84)">75</text>
<line x1="224.54" y1="269.01" x2="225.73" y2="268.88" stroke="#666" stroke-width="0.35"/>
<text x="229.11" y="268.53" font-size="4.9" fill="#333" text-anchor="middle" dominant-baseline="central" transform="rotate(84.00 229.11 268.53)">80</text>
<line x1="225.09" y1="278.36" x2="226.29" y2="278.35" stroke="#666" stroke-width="0.35"/>
<text x="229.69" y="278.30" font-size="4.9" fill="#333" text-anchor="middle" dominant-baseline="central" transform="rotate(89.25 229.69 278.30)">85</text>
<line x1="224.78" y1="287.73" x2="225.98" y2="287.82" stroke="#666" stroke-width="0.35"/>
<text x="229.37" y="288.09" font-size="4.9" fill="#333" text-anchor="middle" dominant-baseline="central" transform="rotate(-85.50 229.37 288.09)">90</text>
<line x1="223.62" y1="297.02" x2="224.81" y2="297.23" stroke="#666" stroke-width="0.35"/>
<text x="228.16" y="297.80" font-size="4.9" fill="#333" text-anchor="middle" dominant-baseline="central" transform="rotate(-80.25 228.16 297.80)">95</text>
<line x1="221.61" y1="306.18" x2="222.77" y2="306.49" stroke="#666" stroke-width="0.35"/>
<text x="226.06" y="307.37" font-size="4.9" fill="#333" text-anchor="middle" dominant-baseline="central" transform="rotate(-75.00 226.06 307.37)">100</text>
<line x1="218.78" y1="315.11" x2="219.90" y2="315.52" stroke="#666" stroke-width="0.35"/>
<text x="223.09" y="316.70" font-size="4.9" fill="#333" text-anchor="middle" dominant-baseline="central" transform="rotate(-69.75 223.09 316.70)">105</text>
<line x1="215.13" y1="323.74" x2="216.22" y2="324.26" stroke="#666" stroke-width="0.35"/>
<text x="219.29" y="325.72" font-size="4.9" fill="#333" text-anchor="middle" dominant-baseline="central" transform="rotate(-64.50 219.29 325.72)">110</text>
<line x1="210.72" y1="332.01" x2="211.75" y2="332.62" stroke="#666" stroke-width="0.35"/>
<text x="214.67" y="334.36" font-size="4.9" fill="#333" text-anchor="middle" dominant-baseline="central" transform="rotate(-59.25 214.67 334.36)">115</text>
<text x="222.96" y="226.11" font-size="4.6" fill="#333" text-anchor="middle" dominant-baseline="central" transform="rotate(61.85 222.96 226.11)">DNMT3A</text>
<path d="M202.70,343.26A102.1,102.1 0 0 1 80.46,372.61L82.37,368.42A97.5,97.5 0 0 0 199.10,340.40Z" fill="#b0d02a"/>
<path d="M202.86,343.38A102.3,102.3 0 0 1 80.38,372.79" fill="none" stroke="#666" stroke-width="0.35"/>
<line x1="202.86" y1="343.38" x2="203.80" y2="344.13" stroke="#666" stroke-width="0.35"/>
<text x="206.46" y="346.25" font-size="4.9" fill="#333" text-anchor="middle" dominant-baseline="central" transform="rotate(-51.50 206.46 346.25)">0</text>
<line x1="196.70" y1="350.44" x2="197.56" y2="351.27" stroke="#666" stroke-width="0.35"/>
<text x="200.02" y="353.62" font-size="4.9" fill="#333" text-anchor="middle" dominant-baseline="central" transform="rotate(-46.25 200.02 353.62)">5</text>
<line x1="189.91" y1="356.91" x2="190.70" y2="357.81" stroke="#666" stroke-width="0.35"/>
<text x="192.93" y="360.38" font-size="4.9" fill="#333" text-anchor="middle" dominant-baseline="central" transform="rotate(-41.00 192.93 360.38)">10</text>
<line x1="182.57" y1="362.72" x2="183.27" y2="363.70" stroke="#666" stroke-width="0.35"/>
<text x="185.26" y="366.46" font-size="4.9" fill="#333" text-anchor="middle" dominant-baseline="central" transform="rotate(-35.75 185.26 366.46)">15</text>
<line x1="174.72" y1="367.84" x2="175.33" y2="368.88" stroke="#666" stroke-width="0.35"/>
<text x="177.06" y="371.81" font-size="4.9" fill="#333" text-anchor="middle" dominant-baseline="central" transform="rotate(-30.50 177.06 371.81)">20</text>
<line x1="166.44" y1="372.23" x2="166.95" y2="373.31" stroke="#666" stroke-width="0.35"/>
<text x="168.40" y="376.39" font-size="4.9" fill="#333" text-anchor="middle" dominant-baseline="central" transform="rotate(-25.25 168.40 376.39)">25</text>
<line x1="157.79" y1="375.83" x2="158.20" y2="376.96" stroke="#666" stroke-width="0.35"/>
<text x="159.36" y="380.15" font-size="4.9" fill="#333" text-anchor="middle" dominant-baseline="central" transform="rotate(-20.00 159.36 380.15)">30</text>
<line x1="148.85" y1="378.63" x2="149.15" y2="379.79" stroke="#666" stroke-width="0.35"/>
<text x="150.02" y="383.08" font-size="4.9" fill="#333" text-anchor="middle" dominant-baseline="central" transform="rotate(-14.75 150.02 383.08)">35</text>
<line x1="139.68" y1="380.60" x2="139.88" y2="381.78" stroke="#666" stroke-width="0.35"/>
<text x="140.44" y="385.13" font-size="4.9" fill="#333" text-anchor="middle" dominant-baseline="central" transform="rotate(-9.50 140.44 385.13)">40</text>
<line x1="130.38" y1="381.72" x2="130.47" y2="382.92" stroke="#666" stroke-width="0.35"/>
<text x="130.72" y="386.31" font-size="4.9" fill="#333" text-anchor="middle" dominant-baseline="central" transform="rotate(-4.25 130.72 386.31)">45</text>
<line x1="121.01" y1="381.98" x2="120.99" y2="383.18" stroke="#666" stroke-width="0.35"/>
<text x="120.93" y="386.58" font-size="4.9" fill="#333" text-anchor="middle" dominant-baseline="central" transform="rotate(1.00 120.93 386.58)">50</text>
<line x1="111.66" y1="381.39" x2="111.53" y2="382.58" stroke="#666" stroke-width="0.35"/>
<text x="111.16" y="385.96" font-size="4.9" fill="#333" text-anchor="middle" dominant-baseline="central" transform="rotate(6.25 111.16 385.96)">55</text>
<line x1="102.40" y1="379.95" x2="102.17" y2="381.12" stroke="#666" stroke-width="0.35"/>
<text x="101.49" y="384.45" font-size="4.9" fill="#333" text-anchor="middle" dominant-baseline="central" transform="rotate(11.50 101.49 384.45)">60</text>
<line x1="93.32" y1="377.66" x2="92.97" y2="378.81" stroke="#666" stroke-width="0.35"/>
<text x="91.99" y="382.06" font-size="4.9" fill="#333" text-anchor="middle" dominant-baseline="central" transform="rotate(16.75 91.99 382.06)">65</text>
<line x1="84.48" y1="374.55" x2="84.03" y2="375.66" stroke="#666" stroke-width="0.35"/>
<text x="82.75" y="378.82" font-size="4.9" fill="#333" text-anchor="middle" dominant-baseline="central" transform="rotate(22.00 82.75 378.82)">70</text>
<text x="149.32" y="390.16" font-size="4.6" fill="#333" text-anchor="middle" dominant-baseline="central" transform="rotate(-13.50 149.32 390.16)">TET2</text>
<path d="M72.83,368.74A102.1,102.1 0 0 1 24.41,306.99L28.85,305.76A97.5,97.5 0 0 0 75.09,364.73Z" fill="#6cbf48"/>
<path d="M72.74,368.91A102.3,102.3 0 0 1 24.22,307.04" fill="none" stroke="#666" stroke-width="0.35"/>
<line x1="72.74" y1="368.91" x2="72.15" y2="369.96" stroke="#666" stroke-width="0.35"/>
<text x="70.49" y="372.92" font-size="4.9" fill="#333" text-anchor="middle" dominant-baseline="central" transform="rotate(29.30 70.49 372.92)">0</text>
<line x1="64.78" y1="363.96" x2="64.10" y2="364.95" stroke="#666" stroke-width="0.35"/>
<text x="62.17" y="367.75" font-size="4.9" fill="#333" text-anchor="middle" dominant-baseline="central" transform="rotate(34.55 62.17 367.75)">5</text>
<line x1="57.32" y1="358.30" x2="56.55" y2="359.22" stroke="#666" stroke-width="0.35"/>
<text x="54.37" y="361.83" font-size="4.9" fill="#333" text-anchor="middle" dominant-baseline="central" transform="rotate(39.80 54.37 361.83)">10</text>
<line x1="50.40" y1="351.97" x2="49.55" y2="352.82" stroke="#666" stroke-width="0.35"/>
<text x="47.14" y="355.22" font-size="4.9" fill="#333" text-anchor="middle" dominant-baseline="central" transform="rotate(45.05 47.14 355.22)">15</text>
<line x1="44.09" y1="345.05" x2="43.17" y2="345.81" stroke="#666" stroke-width="0.35"/>
<text x="40.55" y="347.98" font-size="4.9" fill="#333" text-anchor="middle" dominant-baseline="central" transform="rotate(50.30 40.55 347.98)">20</text>
<line x1="38.44" y1="337.57" x2="37.45" y2="338.25" stroke="#666" stroke-width="0.35"/>
<text x="34.65" y="340.17" font-size="4.9" fill="#333" text-anchor="middle" dominant-baseline="central" transform="rotate(55.55 34.65 340.17)">25</text>
<line x1="33.50" y1="329.61" x2="32.45" y2="330.19" stroke="#666" stroke-width="0.35"/>
<text x="29.48" y="331.85" font-size="4.9" fill="#333" text-anchor="middle" dominant-baseline="central" transform="rotate(60.80 29.48 331.85)">30</text>
<line x1="29.31" y1="321.23" x2="28.21" y2="321.71" stroke="#666" stroke-width="0.35"/>
<text x="25.10" y="323.09" font-size="4.9" fill="#333" text-anchor="middle" dominant-baseline="central" transform="rotate(66.05 25.10 323.09)">35</text>
<line x1="25.90" y1="312.50" x2="24.76" y2="312.88" stroke="#666" stroke-width="0.35"/>
<text x="21.54" y="313.97" font-size="4.9" fill="#333" text-anchor="middle" dominant-baseline="central" transform="rotate(71.30 21.54 313.97)">40</text>
<text x="33.40" y="349.80" font-size="4.6" fill="#333" text-anchor="middle" dominant-baseline="central" transform="rotate(51.90 33.40 349.80)">other</text>
<path d="M22.41,298.31A102.1,102.1 0 0 1 24.56,251.90L28.98,253.15A97.5,97.5 0 0 0 26.93,297.47Z" fill="#38ab6e"/>
<path d="M22.21,298.34A102.3,102.3 0 0 1 24.37,251.85" fill="none" stroke="#666" stroke-width="0.35"/>
<line x1="22.21" y1="298.34" x2="21.03" y2="298.56" stroke="#666" stroke-width="0.35"/>
<text x="17.69" y="299.18" font-size="4.9" fill="#333" text-anchor="middle" dominant-baseline="central" transform="rotate(79.50 17.69 299.18)">0</text>
<line x1="20.93" y1="289.06" x2="19.73" y2="289.17" stroke="#666" stroke-width="0.35"/>
<text x="16.35" y="289.48" font-size="4.9" fill="#333" text-anchor="middle" dominant-baseline="central" transform="rotate(84.75 16.35 289.48)">5</text>
<line x1="20.50" y1="279.70" x2="19.30" y2="279.70" stroke="#666" stroke-width="0.35"/>
<text x="15.90" y="279.70" font-size="4.9" fill="#333" text-anchor="middle" dominant-baseline="central" transform="rotate(270.00 15.90 279.70)">10</text>
<line x1="20.93" y1="270.34" x2="19.73" y2="270.23" stroke="#666" stroke-width="0.35"/>
<text x="16.35" y="269.92" font-size="4.9" fill="#333" text-anchor="middle" dominant-baseline="central" transform="rotate(275.25 16.35 269.92)">15</text>
<line x1="22.21" y1="261.06" x2="21.03" y2="260.84" stroke="#666" stroke-width="0.35"/>
<text x="17.69" y="260.22" font-size="4.9" fill="#333" text-anchor="middle" dominant-baseline="central" transform="rotate(280.50 17.69 260.22)">20</text>
<line x1="24.34" y1="251.93" x2="23.19" y2="251.61" stroke="#666" stroke-width="0.35"/>
<text x="19.91" y="250.68" font-size="4.9" fill="#333" text-anchor="middle" dominant-baseline="central" transform="rotate(285.75 19.91 250.68)">25</text>
<text x="9.32" y="274.45" font-size="4.6" fill="#333" text-anchor="middle" dominant-baseline="central" transform="rotate(272.65 9.32 274.45)">ASXL1</text>
<path d="M27.17,243.94A102.1,102.1 0 0 1 36.21,225.60L40.12,228.03A97.5,97.5 0 0 0 31.47,245.55Z" fill="#1ea084"/>
<path d="M26.98,243.87A102.3,102.3 0 0 1 36.04,225.49" fill="none" stroke="#666" stroke-width="0.35"/>
<line x1="26.98" y1="243.87" x2="25.85" y2="243.45" stroke="#666" stroke-width="0.35"/>
<text x="22.67" y="242.26" font-size="4.9" fill="#333" text-anchor="middle" dominant-baseline="central" transform="rotate(290.50 22.67 242.26)">0</text>
<line x1="30.66" y1="235.26" x2="29.58" y2="234.73" stroke="#666" stroke-width="0.35"/>
<text x="26.52" y="233.26" font-size="4.9" fill="#333" text-anchor="middle" dominant-baseline="central" transform="rotate(295.75 26.52 233.26)">5</text>
<line x1="35.11" y1="227.01" x2="34.08" y2="226.39" stroke="#666" stroke-width="0.35"/>
<text x="31.17" y="224.64" font-size="4.9" fill="#333" text-anchor="middle" dominant-baseline="central" transform="rotate(301.00 31.17 224.64)">10</text>
<text x="20.92" y="229.46" font-size="4.6" fill="#333" text-anchor="middle" dominant-baseline="central" transform="rotate(296.25 20.92 229.46)">CBL</text>
<path d="M40.51,219.26A102.1,102.1 0 0 1 54.88,203.47L57.94,206.90A97.5,97.5 0 0 0 44.22,221.98Z" fill="#22808a"/>
<path d="M40.35,219.14A102.3,102.3 0 0 1 54.75,203.32" fill="none" stroke="#666" stroke-width="0.35"/>
<line x1="40.35" y1="219.14" x2="39.39" y2="218.43" stroke="#666" stroke-width="0.35"/>
<text x="36.65" y="216.41" font-size="4.9" fill="#333" text-anchor="middle" dominant-baseline="central" transform="rotate(306.30 36.65 216.41)">0</text>
<line x1="46.24" y1="211.85" x2="45.34" y2="211.05" stroke="#666" stroke-width="0.35"/>
<text x="42.80" y="208.80" font-size="4.9" fill="#333" text-anchor="middle" dominant-baseline="central" transform="rotate(311.55 42.80 208.80)">5</text>
<line x1="52.77" y1="205.13" x2="51.95" y2="204.25" stroke="#666" stroke-width="0.35"/>
<text x="49.62" y="201.77" font-size="4.9" fill="#333" text-anchor="middle" dominant-baseline="central" transform="rotate(316.80 49.62 201.77)">10</text>
<text x="38.78" y="203.25" font-size="4.6" fill="#333" text-anchor="middle" dominant-baseline="central" transform="rotate(312.30 38.78 203.25)">PPM1D</text>
<path d="M60.36,198.92A102.1,102.1 0 0 1 73.77,190.14L75.98,194.18A97.5,97.5 0 0 0 63.18,202.56Z" fill="#34458a"/>
<path d="M60.24,198.76A102.3,102.3 0 0 1 73.67,189.97" fill="none" stroke="#666" stroke-width="0.35"/>
<line x1="60.24" y1="198.76" x2="59.51" y2="197.81" stroke="#666" stroke-width="0.35"/>
<text x="57.43" y="195.12" font-size="4.9" fill="#333" text-anchor="middle" dominant-baseline="central" transform="rotate(322.30 57.43 195.12)">0</text>
<line x1="67.91" y1="193.37" x2="67.27" y2="192.36" stroke="#666" stroke-width="0.35"/>
<text x="65.44" y="189.49" font-size="4.9" fill="#333" text-anchor="middle" dominant-baseline="central" transform="rotate(327.55 65.44 189.49)">5</text>
<text x="60.60" y="184.64" font-size="4.6" fill="#333" text-anchor="middle" dominant-baseline="central" transform="rotate(326.80 60.60 184.64)">CHEK2</text>
<path d="M81.27,186.43A102.1,102.1 0 0 1 94.66,181.56L95.93,185.98A97.5,97.5 0 0 0 83.14,190.63Z" fill="#2b6b93"/>
<path d="M81.19,186.24A102.3,102.3 0 0 1 94.60,181.36" fill="none" stroke="#666" stroke-width="0.35"/>
<line x1="81.19" y1="186.24" x2="80.70" y2="185.15" stroke="#666" stroke-width="0.35"/>
<text x="79.32" y="182.04" font-size="4.9" fill="#333" text-anchor="middle" dominant-baseline="central" transform="rotate(336.00 79.32 182.04)">0</text>
<line x1="89.92" y1="182.83" x2="89.53" y2="181.69" stroke="#666" stroke-width="0.35"/>
<text x="88.44" y="178.47" font-size="4.9" fill="#333" text-anchor="middle" dominant-baseline="central" transform="rotate(341.25 88.44 178.47)">5</text>
<text x="83.95" y="172.95" font-size="4.6" fill="#333" text-anchor="middle" dominant-baseline="central" transform="rotate(340.00 83.95 172.95)">ATM</text>
<path d="M102.10,179.72A102.1,102.1 0 0 1 114.97,177.90L115.32,182.49A97.5,97.5 0 0 0 103.03,184.23Z" fill="#44207a"/>
<path d="M102.05,179.53A102.3,102.3 0 0 1 114.95,177.70" fill="none" stroke="#666" stroke-width="0.35"/>
<line x1="102.05" y1="179.53" x2="101.81" y2="178.35" stroke="#666" stroke-width="0.35"/>
<text x="101.12" y="175.02" font-size="4.9" fill="#333" text-anchor="middle" dominant-baseline="central" transform="rotate(348.30 101.12 175.02)">0</text>
<line x1="111.31" y1="178.05" x2="111.17" y2="176.86" stroke="#666" stroke-width="0.35"/>
<text x="110.79" y="173.48" font-size="4.9" fill="#333" text-anchor="middle" dominant-baseline="central" transform="rotate(353.55 110.79 173.48)">5</text>
<text x="106.89" y="167.22" font-size="4.6" fill="#333" text-anchor="middle" dominant-baseline="central" transform="rotate(351.95 106.89 167.22)">TP53</text>
<text x="0.60" y="162.90" font-size="11.2" fill="#111" font-weight="bold" >D</text></svg></body></html>
